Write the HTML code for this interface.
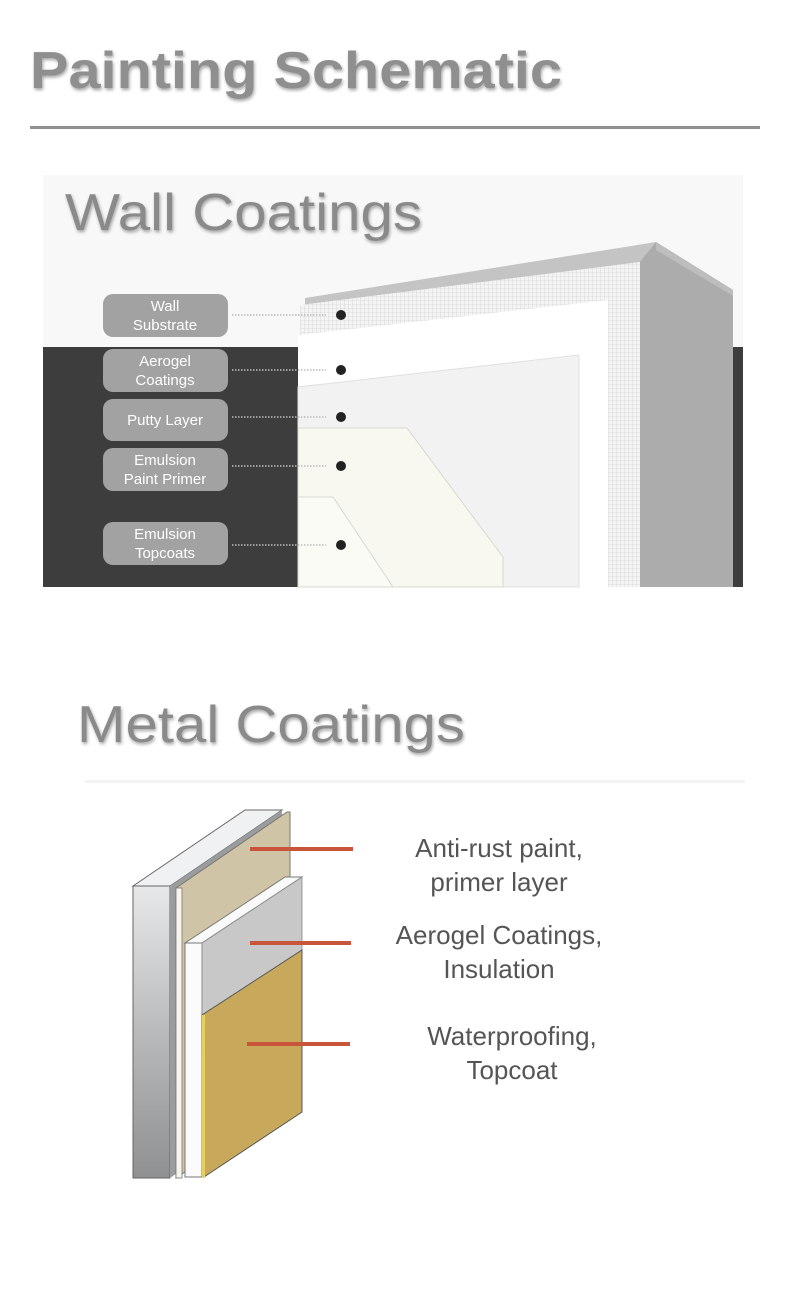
<!DOCTYPE html>
<html><head><meta charset="utf-8"><style>
html,body{margin:0;padding:0;background:#fff;}
svg{display:block;}
</style></head><body>
<svg width="790" height="1300" viewBox="0 0 790 1300" xmlns="http://www.w3.org/2000/svg" font-family="Liberation Sans, sans-serif">
<defs>
<filter id="sh" x="-5%" y="-20%" width="110%" height="150%"><feDropShadow dx="1" dy="2" stdDeviation="1.5" flood-color="#000" flood-opacity="0.35"/></filter>
<pattern id="grid" width="4" height="4" patternUnits="userSpaceOnUse"><rect width="4" height="4" fill="#f4f4f4"/><path d="M0 0H4M0 0V4" stroke="#c8c8c8" stroke-width="0.6"/></pattern>
<linearGradient id="slab" x1="0" y1="0" x2="0" y2="1"><stop offset="0" stop-color="#e6e8ea"/><stop offset="0.5" stop-color="#b8babc"/><stop offset="1" stop-color="#8e9092"/></linearGradient>
</defs>

<text x="30" y="88" font-size="52" font-weight="bold" fill="#8f8f8f" textLength="532" lengthAdjust="spacingAndGlyphs" filter="url(#sh)">Painting Schematic</text>
<rect x="30" y="126" width="730" height="3" fill="#909090"/>

<rect x="43" y="175" width="700" height="412" fill="#f8f8f8"/>
<text x="65" y="230" font-size="52" fill="#8a8a8a" textLength="357" lengthAdjust="spacingAndGlyphs" filter="url(#sh)">Wall Coatings</text>
<rect x="43" y="347" width="255" height="240" fill="#3d3d3d"/>
<rect x="733" y="347" width="10" height="240" fill="#3d3d3d"/>
<!-- concrete -->
<polygon points="305,298 656,242 733,290 640,290 640,262 305,312" fill="#c4c4c4"/>
<polygon points="640,262 656,242 733,290 733,587 640,587" fill="#acacac"/>
<polygon points="656,242 733,290 733,296 656,250" fill="#bdbdbd"/>
<!-- grid band -->
<polygon points="300,305 640,262 640,587 608,587 608,300 300,335" fill="url(#grid)"/>
<polygon points="298,335 608,300 608,587 298,587" fill="#ffffff"/>
<polygon points="298,387 579,355 579,587 298,587" fill="#f2f2f2" stroke="#e0e0dc" stroke-width="1"/>
<polygon points="298,428 407,428 503,557 503,587 298,587" fill="#f8f8f1" stroke="#d8d8d0" stroke-width="1"/>
<polygon points="298,497 333,497 393,587 298,587" fill="#fbfbf6" stroke="#d8d8d0" stroke-width="1"/>

<g font-size="15" fill="#fff" text-anchor="middle">
<rect x="103" y="294" width="125" height="43" rx="10" fill="#a2a2a2"/>
<text x="165" y="311">Wall</text><text x="165" y="330">Substrate</text>
<rect x="103" y="349" width="125" height="43" rx="10" fill="#a2a2a2"/>
<text x="165" y="366">Aerogel</text><text x="165" y="385">Coatings</text>
<rect x="103" y="399" width="125" height="42" rx="10" fill="#a2a2a2"/>
<text x="165" y="425">Putty Layer</text>
<rect x="103" y="448" width="125" height="43" rx="10" fill="#a2a2a2"/>
<text x="165" y="465">Emulsion</text><text x="165" y="484">Paint Primer</text>
<rect x="103" y="522" width="125" height="43" rx="10" fill="#a2a2a2"/>
<text x="165" y="539">Emulsion</text><text x="165" y="558">Topcoats</text>
</g>
<g stroke="#bbb" stroke-width="1.5" stroke-dasharray="1.5,1.5">
<line x1="232" y1="315" x2="326" y2="315"/>
<line x1="232" y1="370" x2="326" y2="370"/>
<line x1="232" y1="417" x2="326" y2="417"/>
<line x1="232" y1="466" x2="326" y2="466"/>
<line x1="232" y1="545" x2="326" y2="545"/>
</g>
<g fill="#222">
<circle cx="341" cy="315" r="5"/><circle cx="341" cy="370" r="5"/><circle cx="341" cy="417" r="5"/><circle cx="341" cy="466" r="5"/><circle cx="341" cy="545" r="5"/>
</g>

<text x="77" y="742" font-size="52" fill="#8a8a8a" textLength="388" lengthAdjust="spacingAndGlyphs" filter="url(#sh)">Metal Coatings</text>
<rect x="85" y="780" width="660" height="3" fill="#f4f4f4"/>

<polygon points="133,886 245,810 282,810 170,886" fill="#f0f1f2" stroke="#666" stroke-width="1"/>
<rect x="133" y="886" width="37" height="292" fill="url(#slab)" stroke="#666" stroke-width="1"/>
<polygon points="170,886 282,810 282,1100 170,1178" fill="#9a9c9e"/>
<polygon points="176,888 287,812 290,812 290,1100 176,1178" fill="#d0c4a6" stroke="#777" stroke-width="1"/>
<rect x="176" y="888" width="6" height="290" fill="#f6f4ec" stroke="#777" stroke-width="0.8"/>
<polygon points="185,943 285,877 302,877 202,943" fill="#fafafa" stroke="#777" stroke-width="1"/>
<rect x="185" y="943" width="17" height="234" fill="#fbfbfb" stroke="#777" stroke-width="1"/>
<polygon points="202,943 302,877 302,950 202,1015" fill="#c8c8c8" stroke="#888" stroke-width="0.8"/>
<polygon points="202,1015 302,950 302,1112 204,1177" fill="#c8a95c" stroke="#555" stroke-width="1"/>
<rect x="202" y="1015" width="3" height="162" fill="#e7cf5e"/>

<g stroke="#c8553a" stroke-width="4">
<line x1="250" y1="849" x2="353" y2="849"/>
<line x1="250" y1="943" x2="351" y2="943"/>
<line x1="247" y1="1044" x2="350" y2="1044"/>
</g>
<g font-size="26" fill="#555" text-anchor="middle">
<text x="499" y="857">Anti-rust paint,</text>
<text x="499" y="891">primer layer</text>
<text x="499" y="944">Aerogel Coatings,</text>
<text x="499" y="978">Insulation</text>
<text x="512" y="1045">Waterproofing,</text>
<text x="512" y="1079">Topcoat</text>
</g>
</svg>
</body></html>
